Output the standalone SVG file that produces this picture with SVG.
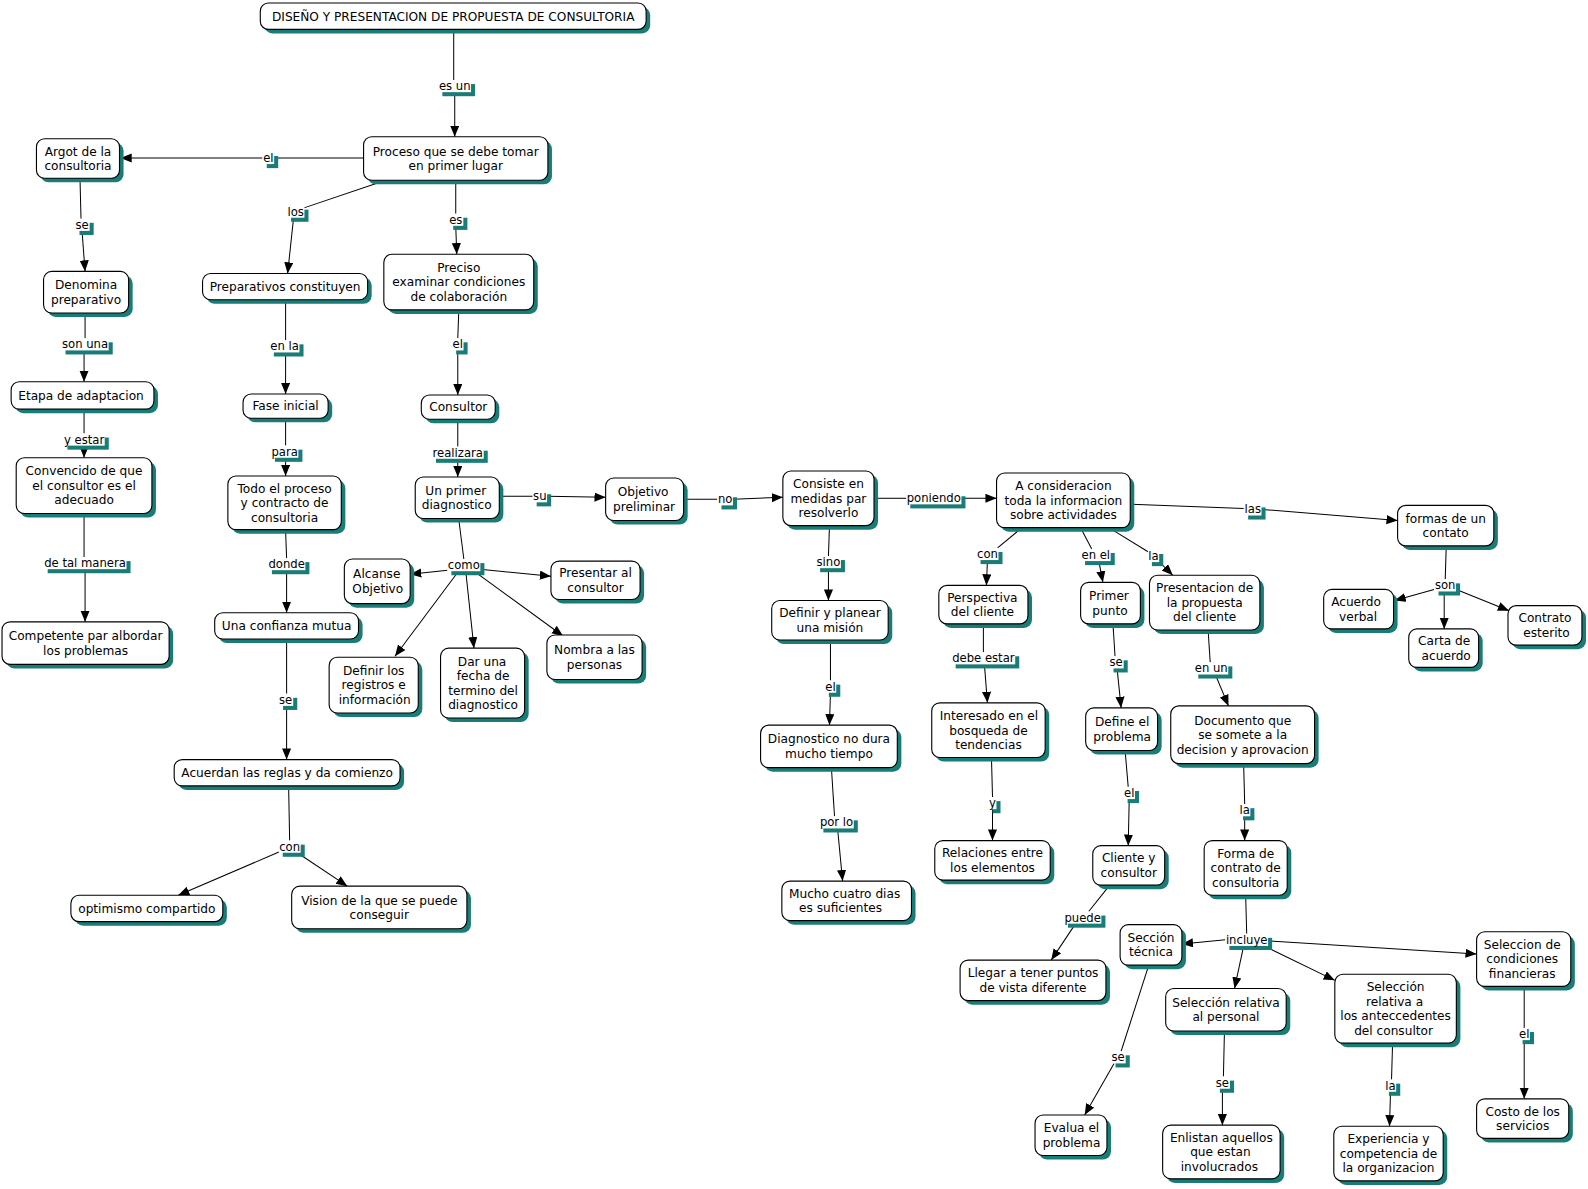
<svg xmlns="http://www.w3.org/2000/svg" width="1588" height="1189" viewBox="0 0 1588 1189">
<defs>
<style>
.sh{fill:#1a7c77}
.bx{fill:#fff;stroke:#000;stroke-width:1.1}
.t{font-family:"DejaVu Sans",Verdana,sans-serif;font-size:12px;text-anchor:middle;fill:#000}
.lt{font-family:"DejaVu Sans",Verdana,sans-serif;font-size:11.5px;text-anchor:middle;fill:#000}
.lb{fill:#fff}
.ln{stroke:#000;stroke-width:1;fill:none}
.ar{stroke:#000;stroke-width:1;fill:none;marker-end:url(#ah)}
</style>
<marker id="ah" markerUnits="userSpaceOnUse" markerWidth="12" markerHeight="10" refX="11" refY="4.5" orient="auto">
<path d="M0,0 L11,4.5 L0,9 z" fill="#000"/>
</marker>
</defs>
<rect x="0" y="0" width="1588" height="1189" fill="#fff"/>
<g transform="scale(1.01276)">
<g id="connectors">
<line class="ln" x1="448" y1="29" x2="448" y2="80"/><line class="ar" x1="449" y1="91" x2="449" y2="135"/>
<line class="ln" x1="359" y1="156" x2="271" y2="156"/><line class="ar" x1="259" y1="156" x2="119" y2="156"/>
<line class="ln" x1="378" y1="179" x2="298" y2="206"/><line class="ar" x1="290" y1="214" x2="284" y2="270"/>
<line class="ln" x1="450" y1="178" x2="450" y2="211"/><line class="ar" x1="450" y1="223" x2="451" y2="251"/>
<line class="ln" x1="79" y1="177" x2="80" y2="216"/><line class="ar" x1="81" y1="228" x2="84" y2="268"/>
<line class="ln" x1="84" y1="310" x2="84" y2="334"/><line class="ar" x1="83" y1="346" x2="83" y2="377"/>
<line class="ln" x1="83" y1="405" x2="83" y2="428"/><line class="ar" x1="83" y1="440" x2="83" y2="452"/>
<line class="ln" x1="83" y1="508" x2="83" y2="550"/><line class="ar" x1="84" y1="562" x2="84" y2="614"/>
<line class="ln" x1="282" y1="297" x2="282" y2="336"/><line class="ar" x1="282" y1="348" x2="282" y2="389"/>
<line class="ln" x1="282" y1="414" x2="282" y2="440"/><line class="ar" x1="282" y1="452" x2="282" y2="470"/>
<line class="ln" x1="282" y1="524" x2="283" y2="551"/><line class="ar" x1="283" y1="563" x2="283" y2="605"/>
<line class="ln" x1="283" y1="632" x2="283" y2="685"/><line class="ar" x1="283" y1="697" x2="283" y2="750"/>
<line class="ln" x1="285" y1="777" x2="286" y2="830"/><line class="ar" x1="276" y1="841" x2="176" y2="884"/><line class="ar" x1="298" y1="845" x2="343" y2="875"/>
<line class="ln" x1="453" y1="307" x2="452" y2="334"/><line class="ar" x1="452" y1="346" x2="452" y2="390"/>
<line class="ln" x1="452" y1="415" x2="452" y2="441"/><line class="ar" x1="452" y1="453" x2="452" y2="471"/>
<line class="ln" x1="494" y1="490" x2="526" y2="490"/><line class="ar" x1="540" y1="490" x2="598" y2="491"/>
<line class="ln" x1="453" y1="513" x2="458" y2="552"/>
<line class="ar" x1="442" y1="563" x2="405" y2="567"/><line class="ar" x1="474" y1="562" x2="544" y2="569"/><line class="ar" x1="452" y1="565" x2="390" y2="648"/><line class="ar" x1="460" y1="565" x2="468" y2="640"/><line class="ar" x1="468" y1="564" x2="556" y2="628"/>
<line class="ln" x1="676" y1="493" x2="708" y2="493"/><line class="ar" x1="724" y1="493" x2="773" y2="491"/>
<line class="ln" x1="865" y1="492" x2="895" y2="492"/><line class="ar" x1="949" y1="492" x2="984" y2="492"/>
<line class="ln" x1="819" y1="520" x2="818" y2="549"/><line class="ar" x1="818" y1="561" x2="818" y2="593"/>
<line class="ln" x1="820" y1="633" x2="820" y2="672"/><line class="ar" x1="820" y1="684" x2="819" y2="716"/>
<line class="ln" x1="821" y1="759" x2="824" y2="806"/><line class="ar" x1="827" y1="818" x2="832" y2="870"/>
<line class="ln" x1="1117" y1="498" x2="1228" y2="502"/><line class="ar" x1="1246" y1="503" x2="1380" y2="514"/>
<line class="ln" x1="1008" y1="522" x2="985" y2="541"/><line class="ar" x1="975" y1="553" x2="974" y2="578"/>
<line class="ln" x1="1068" y1="523" x2="1078" y2="542"/><line class="ar" x1="1085" y1="554" x2="1089" y2="575"/>
<line class="ln" x1="1098" y1="523" x2="1134" y2="545"/><line class="ar" x1="1144" y1="554" x2="1158" y2="568"/>
<line class="ln" x1="971" y1="617" x2="971" y2="644"/><line class="ar" x1="972" y1="656" x2="975" y2="694"/>
<line class="ln" x1="979" y1="749" x2="980" y2="787"/><line class="ar" x1="980" y1="799" x2="980" y2="830"/>
<line class="ln" x1="1099" y1="617" x2="1101" y2="648"/><line class="ar" x1="1103" y1="660" x2="1107" y2="699"/>
<line class="ln" x1="1111" y1="742" x2="1114" y2="777"/><line class="ar" x1="1115" y1="789" x2="1114" y2="835"/>
<line class="ln" x1="1095" y1="875" x2="1075" y2="900"/><line class="ar" x1="1062" y1="912" x2="1038" y2="948"/>
<line class="ln" x1="1193" y1="624" x2="1195" y2="654"/><line class="ar" x1="1200" y1="666" x2="1213" y2="697"/>
<line class="ln" x1="1228" y1="755" x2="1229" y2="794"/><line class="ar" x1="1229" y1="806" x2="1229" y2="830"/>
<line class="ln" x1="1230" y1="885" x2="1231" y2="922"/>
<line class="ar" x1="1210" y1="928" x2="1167" y2="932"/><line class="ar" x1="1228" y1="934" x2="1219" y2="976"/><line class="ar" x1="1250" y1="935" x2="1318" y2="968"/><line class="ar" x1="1252" y1="929" x2="1458" y2="942"/>
<line class="ln" x1="1134" y1="954" x2="1107" y2="1038"/><line class="ar" x1="1100" y1="1050" x2="1071" y2="1101"/>
<line class="ln" x1="1209" y1="1019" x2="1208" y2="1063"/><line class="ar" x1="1207" y1="1075" x2="1207" y2="1111"/>
<line class="ln" x1="1375" y1="1031" x2="1374" y2="1066"/><line class="ar" x1="1373" y1="1078" x2="1372" y2="1112"/>
<line class="ln" x1="1505" y1="975" x2="1505" y2="1015"/><line class="ar" x1="1505" y1="1027" x2="1505" y2="1085"/>
<line class="ln" x1="1428" y1="540" x2="1427" y2="572"/>
<line class="ar" x1="1416" y1="582" x2="1377" y2="593"/><line class="ar" x1="1426" y1="584" x2="1426" y2="621"/><line class="ar" x1="1438" y1="582" x2="1490" y2="603"/>

<g id="labels">
<rect class="sh" x="436.8" y="83" width="32.3" height="12"/><rect class="lb" x="432.8" y="79" width="32.3" height="12"/><text class="lt" x="449" y="89">es un</text>
<rect class="sh" x="263.4" y="154" width="11.3" height="12"/><rect class="lb" x="259.4" y="150" width="11.3" height="12"/><text class="lt" x="265" y="160">el</text>
<rect class="sh" x="287.4" y="207" width="17.2" height="12"/><rect class="lb" x="283.4" y="203" width="17.2" height="12"/><text class="lt" x="292" y="213">los</text>
<rect class="sh" x="447.5" y="215" width="14" height="12"/><rect class="lb" x="443.5" y="211" width="14" height="12"/><text class="lt" x="450" y="221">es</text>
<rect class="sh" x="78.5" y="220" width="14" height="12"/><rect class="lb" x="74.5" y="216" width="14" height="12"/><text class="lt" x="81" y="226">se</text>
<rect class="sh" x="64.7" y="338" width="46.6" height="12"/><rect class="lb" x="60.7" y="334" width="46.6" height="12"/><text class="lt" x="84" y="344">son una</text>
<rect class="sh" x="66.6" y="432" width="40.8" height="12"/><rect class="lb" x="62.6" y="428" width="40.8" height="12"/><text class="lt" x="83" y="438">y estar</text>
<rect class="sh" x="47.1" y="554" width="81.8" height="12"/><rect class="lb" x="43.1" y="550" width="81.8" height="12"/><text class="lt" x="84" y="560">de tal manera</text>
<rect class="sh" x="270.4" y="340" width="29.3" height="12"/><rect class="lb" x="266.4" y="336" width="29.3" height="12"/><text class="lt" x="281" y="346">en la</text>
<rect class="sh" x="271.5" y="444" width="27.1" height="12"/><rect class="lb" x="267.5" y="440" width="27.1" height="12"/><text class="lt" x="281" y="450">para</text>
<rect class="sh" x="268.5" y="555" width="37" height="12"/><rect class="lb" x="264.5" y="551" width="37" height="12"/><text class="lt" x="283" y="561">donde</text>
<rect class="sh" x="279.5" y="689" width="14" height="12"/><rect class="lb" x="275.5" y="685" width="14" height="12"/><text class="lt" x="282" y="695">se</text>
<rect class="sh" x="279.2" y="834" width="21.7" height="12"/><rect class="lb" x="275.2" y="830" width="21.7" height="12"/><text class="lt" x="286" y="840">con</text>
<rect class="sh" x="450.4" y="338" width="11.3" height="12"/><rect class="lb" x="446.4" y="334" width="11.3" height="12"/><text class="lt" x="452" y="344">el</text>
<rect class="sh" x="430.5" y="445" width="51.1" height="12"/><rect class="lb" x="426.5" y="441" width="51.1" height="12"/><text class="lt" x="452" y="451">realizara</text>
<rect class="sh" x="529.9" y="488" width="14.3" height="12"/><rect class="lb" x="525.9" y="484" width="14.3" height="12"/><text class="lt" x="533" y="494">su</text>
<rect class="sh" x="445.7" y="556" width="32.6" height="12"/><rect class="lb" x="441.7" y="552" width="32.6" height="12"/><text class="lt" x="458" y="562">como</text>
<rect class="sh" x="712.4" y="491" width="15.3" height="12"/><rect class="lb" x="708.4" y="487" width="15.3" height="12"/><text class="lt" x="716" y="497">no</text>
<rect class="sh" x="898.8" y="490" width="54.5" height="12"/><rect class="lb" x="894.8" y="486" width="54.5" height="12"/><text class="lt" x="922" y="496">poniendo</text>
<rect class="sh" x="809.8" y="553" width="24.5" height="12"/><rect class="lb" x="805.8" y="549" width="24.5" height="12"/><text class="lt" x="818" y="559">sino</text>
<rect class="sh" x="818.4" y="676" width="11.3" height="12"/><rect class="lb" x="814.4" y="672" width="11.3" height="12"/><text class="lt" x="820" y="682">el</text>
<rect class="sh" x="813" y="810" width="34" height="12"/><rect class="lb" x="809" y="806" width="34" height="12"/><text class="lt" x="826" y="816">por lo</text>
<rect class="sh" x="1232.4" y="501" width="17.2" height="12"/><rect class="lb" x="1228.4" y="497" width="17.2" height="12"/><text class="lt" x="1237" y="507">las</text>
<rect class="sh" x="968.2" y="545" width="21.7" height="12"/><rect class="lb" x="964.2" y="541" width="21.7" height="12"/><text class="lt" x="975" y="551">con</text>
<rect class="sh" x="1071.4" y="546" width="29.3" height="12"/><rect class="lb" x="1067.4" y="542" width="29.3" height="12"/><text class="lt" x="1082" y="552">en el</text>
<rect class="sh" x="1137.4" y="547" width="11.2" height="12"/><rect class="lb" x="1133.4" y="543" width="11.2" height="12"/><text class="lt" x="1139" y="553">la</text>
<rect class="sh" x="943.6" y="648" width="62.8" height="12"/><rect class="lb" x="939.6" y="644" width="62.8" height="12"/><text class="lt" x="971" y="654">debe estar</text>
<rect class="sh" x="980.1" y="791" width="7.8" height="12"/><rect class="lb" x="976.1" y="787" width="7.8" height="12"/><text class="lt" x="980" y="797">y</text>
<rect class="sh" x="1099.5" y="652" width="14" height="12"/><rect class="lb" x="1095.5" y="648" width="14" height="12"/><text class="lt" x="1102" y="658">se</text>
<rect class="sh" x="1113.4" y="781" width="11.3" height="12"/><rect class="lb" x="1109.4" y="777" width="11.3" height="12"/><text class="lt" x="1115" y="787">el</text>
<rect class="sh" x="1054.5" y="904" width="37" height="12"/><rect class="lb" x="1050.5" y="900" width="37" height="12"/><text class="lt" x="1069" y="910">puede</text>
<rect class="sh" x="1183.2" y="658" width="33.6" height="12"/><rect class="lb" x="1179.2" y="654" width="33.6" height="12"/><text class="lt" x="1196" y="664">en un</text>
<rect class="sh" x="1227.4" y="798" width="11.2" height="12"/><rect class="lb" x="1223.4" y="794" width="11.2" height="12"/><text class="lt" x="1229" y="804">la</text>
<rect class="sh" x="1213.9" y="926" width="42.2" height="12"/><rect class="lb" x="1209.9" y="922" width="42.2" height="12"/><text class="lt" x="1231" y="932">incluye</text>
<rect class="sh" x="1101.5" y="1042" width="14" height="12"/><rect class="lb" x="1097.5" y="1038" width="14" height="12"/><text class="lt" x="1104" y="1048">se</text>
<rect class="sh" x="1204.5" y="1067" width="14" height="12"/><rect class="lb" x="1200.5" y="1063" width="14" height="12"/><text class="lt" x="1207" y="1073">se</text>
<rect class="sh" x="1371.4" y="1070" width="11.2" height="12"/><rect class="lb" x="1367.4" y="1066" width="11.2" height="12"/><text class="lt" x="1373" y="1076">la</text>
<rect class="sh" x="1503.4" y="1019" width="11.3" height="12"/><rect class="lb" x="1499.4" y="1015" width="11.3" height="12"/><text class="lt" x="1505" y="1025">el</text>
<rect class="sh" x="1420.4" y="576" width="21.3" height="12"/><rect class="lb" x="1416.4" y="572" width="21.3" height="12"/><text class="lt" x="1427" y="582">son</text>
</g>
</g>

<g id="n-title"><rect class="sh" x="261" y="7" width="381" height="26" rx="8"/><rect class="bx" x="257" y="3" width="381" height="26" rx="8"/><text class="t" x="447.5" y="20.3">DISEÑO Y PRESENTACION DE PROPUESTA DE CONSULTORIA</text></g>
<g id="n-proceso"><rect class="sh" x="363" y="139" width="182" height="43" rx="8"/><rect class="bx" x="359" y="135" width="182" height="43" rx="8"/><text class="t"><tspan x="450" y="153.6">Proceso que se debe tomar</tspan><tspan x="450" y="167.9">en primer lugar</tspan></text></g>
<g id="n-argot"><rect class="sh" x="40" y="141" width="82" height="39" rx="8"/><rect class="bx" x="36" y="137" width="82" height="39" rx="8"/><text class="t"><tspan x="77" y="153.6">Argot de la</tspan><tspan x="77" y="167.9">consultoria</tspan></text></g>
<g id="n-denomina"><rect class="sh" x="47" y="272" width="84" height="41" rx="8"/><rect class="bx" x="43" y="268" width="84" height="41" rx="8"/><text class="t"><tspan x="85" y="285.6">Denomina</tspan><tspan x="85" y="299.9">preparativo</tspan></text></g>
<g id="n-etapa"><rect class="sh" x="15" y="381" width="141" height="27" rx="8"/><rect class="bx" x="11" y="377" width="141" height="27" rx="8"/><text class="t" x="80" y="394.8">Etapa de adaptacion</text></g>
<g id="n-convencido"><rect class="sh" x="20" y="456" width="134" height="55" rx="8"/><rect class="bx" x="16" y="452" width="134" height="55" rx="8"/><text class="t"><tspan x="83" y="469.5">Convencido de que</tspan><tspan x="83" y="483.8">el consultor es el</tspan><tspan x="83" y="498.1">adecuado</tspan></text></g>
<g id="n-competente"><rect class="sh" x="6" y="618" width="165" height="42" rx="8"/><rect class="bx" x="2" y="614" width="165" height="42" rx="8"/><text class="t"><tspan x="84.5" y="632.1">Competente par albordar</tspan><tspan x="84.5" y="646.4">los problemas</tspan></text></g>
<g id="n-preparativos"><rect class="sh" x="204" y="274" width="163" height="26" rx="8"/><rect class="bx" x="200" y="270" width="163" height="26" rx="8"/><text class="t" x="281.5" y="287.3">Preparativos constituyen</text></g>
<g id="n-preciso"><rect class="sh" x="383" y="255" width="148" height="55" rx="8"/><rect class="bx" x="379" y="251" width="148" height="55" rx="8"/><text class="t"><tspan x="453" y="268.5">Preciso</tspan><tspan x="453" y="282.8">examinar condiciones</tspan><tspan x="453" y="297.1">de colaboración</tspan></text></g>
<g id="n-fase"><rect class="sh" x="244" y="393" width="84" height="24" rx="8"/><rect class="bx" x="240" y="389" width="84" height="24" rx="8"/><text class="t" x="282" y="405.3">Fase inicial</text></g>
<g id="n-consultor"><rect class="sh" x="420" y="394" width="73" height="24" rx="8"/><rect class="bx" x="416" y="390" width="73" height="24" rx="8"/><text class="t" x="452.5" y="406.3">Consultor</text></g>
<g id="n-todo"><rect class="sh" x="229" y="474" width="112" height="53" rx="8"/><rect class="bx" x="225" y="470" width="112" height="53" rx="8"/><text class="t"><tspan x="281" y="486.5">Todo el proceso</tspan><tspan x="281" y="500.8">y contracto de</tspan><tspan x="281" y="515.1">consultoria</tspan></text></g>
<g id="n-confianza"><rect class="sh" x="216" y="609" width="142" height="26" rx="8"/><rect class="bx" x="212" y="605" width="142" height="26" rx="8"/><text class="t" x="283" y="622.3">Una confianza mutua</text></g>
<g id="n-acuerdan"><rect class="sh" x="176" y="754" width="223" height="26" rx="8"/><rect class="bx" x="172" y="750" width="223" height="26" rx="8"/><text class="t" x="283.5" y="767.3">Acuerdan las reglas y da comienzo</text></g>
<g id="n-optimismo"><rect class="sh" x="74" y="888" width="150" height="26" rx="8"/><rect class="bx" x="70" y="884" width="150" height="26" rx="8"/><text class="t" x="145" y="901.3">optimismo compartido</text></g>
<g id="n-vision"><rect class="sh" x="292" y="879" width="173" height="42" rx="8"/><rect class="bx" x="288" y="875" width="173" height="42" rx="8"/><text class="t"><tspan x="374.5" y="893.2">Vision de la que se puede</tspan><tspan x="374.5" y="907.5">conseguir</tspan></text></g>
<g id="n-unprimer"><rect class="sh" x="414" y="475" width="83" height="41" rx="8"/><rect class="bx" x="410" y="471" width="83" height="41" rx="8"/><text class="t"><tspan x="450" y="488.6">Un primer</tspan><tspan x="451" y="502.9">diagnostico</tspan></text></g>
<g id="n-objetivo"><rect class="sh" x="602" y="476" width="77" height="42" rx="8"/><rect class="bx" x="598" y="472" width="77" height="42" rx="8"/><text class="t"><tspan x="635" y="490.1">Objetivo</tspan><tspan x="636" y="504.4">preliminar</tspan></text></g>
<g id="n-alcanse"><rect class="sh" x="344" y="556" width="65" height="44" rx="8"/><rect class="bx" x="340" y="552" width="65" height="44" rx="8"/><text class="t"><tspan x="372" y="571.1">Alcanse</tspan><tspan x="373" y="585.4">Objetivo</tspan></text></g>
<g id="n-presentar"><rect class="sh" x="548" y="558" width="88" height="38" rx="8"/><rect class="bx" x="544" y="554" width="88" height="38" rx="8"/><text class="t"><tspan x="588" y="570.1">Presentar al</tspan><tspan x="588" y="584.4">consultor</tspan></text></g>
<g id="n-definirreg"><rect class="sh" x="329" y="653" width="88" height="55" rx="8"/><rect class="bx" x="325" y="649" width="88" height="55" rx="8"/><text class="t"><tspan x="369" y="666.5">Definir los</tspan><tspan x="369" y="680.8">registros e</tspan><tspan x="370" y="695.1">información</tspan></text></g>
<g id="n-darfecha"><rect class="sh" x="439" y="644" width="83" height="69" rx="8"/><rect class="bx" x="435" y="640" width="83" height="69" rx="8"/><text class="t"><tspan x="476" y="657.4">Dar una</tspan><tspan x="477" y="671.7">fecha de</tspan><tspan x="477" y="686">termino del</tspan><tspan x="477" y="700.3">diagnostico</tspan></text></g>
<g id="n-nombra"><rect class="sh" x="544" y="631" width="94" height="44" rx="8"/><rect class="bx" x="540" y="627" width="94" height="44" rx="8"/><text class="t"><tspan x="587" y="646.1">Nombra a las</tspan><tspan x="587" y="660.4">personas</tspan></text></g>
<g id="n-consiste"><rect class="sh" x="777" y="469" width="90" height="54" rx="8"/><rect class="bx" x="773" y="465" width="90" height="54" rx="8"/><text class="t"><tspan x="818" y="482">Consiste en</tspan><tspan x="818" y="496.3">medidas par</tspan><tspan x="818" y="510.6">resolverlo</tspan></text></g>
<g id="n-definirplan"><rect class="sh" x="766" y="597" width="115" height="39" rx="8"/><rect class="bx" x="762" y="593" width="115" height="39" rx="8"/><text class="t"><tspan x="819.5" y="609.6">Definir y planear</tspan><tspan x="819.5" y="623.9">una misión</tspan></text></g>
<g id="n-diagnostico"><rect class="sh" x="755" y="720" width="135" height="42" rx="8"/><rect class="bx" x="751" y="716" width="135" height="42" rx="8"/><text class="t"><tspan x="818.5" y="734.1">Diagnostico no dura</tspan><tspan x="818.5" y="748.4">mucho tiempo</tspan></text></g>
<g id="n-mucho"><rect class="sh" x="776" y="874" width="128" height="39" rx="8"/><rect class="bx" x="772" y="870" width="128" height="39" rx="8"/><text class="t"><tspan x="834" y="886.6">Mucho cuatro dias</tspan><tspan x="830" y="900.9">es suficientes</tspan></text></g>
<g id="n-aconsid"><rect class="sh" x="988" y="471" width="132" height="54" rx="8"/><rect class="bx" x="984" y="467" width="132" height="54" rx="8"/><text class="t"><tspan x="1050" y="484">A consideracion</tspan><tspan x="1050" y="498.3">toda la informacion</tspan><tspan x="1050" y="512.6">sobre actividades</tspan></text></g>
<g id="n-perspectiva"><rect class="sh" x="931" y="582" width="88" height="38" rx="8"/><rect class="bx" x="927" y="578" width="88" height="38" rx="8"/><text class="t"><tspan x="970" y="594.1">Perspectiva</tspan><tspan x="970" y="608.4">del cliente</tspan></text></g>
<g id="n-interesado"><rect class="sh" x="924" y="698" width="112" height="54" rx="8"/><rect class="bx" x="920" y="694" width="112" height="54" rx="8"/><text class="t"><tspan x="976.5" y="711">Interesado en el</tspan><tspan x="976" y="725.3">bosqueda de</tspan><tspan x="976" y="739.6">tendencias</tspan></text></g>
<g id="n-relaciones"><rect class="sh" x="927" y="834" width="114" height="39" rx="8"/><rect class="bx" x="923" y="830" width="114" height="39" rx="8"/><text class="t"><tspan x="980" y="846.6">Relaciones entre</tspan><tspan x="980" y="860.9">los elementos</tspan></text></g>
<g id="n-primer"><rect class="sh" x="1071" y="579" width="59" height="41" rx="8"/><rect class="bx" x="1067" y="575" width="59" height="41" rx="8"/><text class="t"><tspan x="1095" y="592.6">Primer</tspan><tspan x="1096" y="606.9">punto</tspan></text></g>
<g id="n-define"><rect class="sh" x="1076" y="703" width="71" height="42" rx="8"/><rect class="bx" x="1072" y="699" width="71" height="42" rx="8"/><text class="t"><tspan x="1108" y="717.1">Define el</tspan><tspan x="1108" y="731.4">problema</tspan></text></g>
<g id="n-cliente"><rect class="sh" x="1083" y="839" width="71" height="39" rx="8"/><rect class="bx" x="1079" y="835" width="71" height="39" rx="8"/><text class="t"><tspan x="1114.5" y="851.6">Cliente y</tspan><tspan x="1114.5" y="865.9">consultor</tspan></text></g>
<g id="n-llegar"><rect class="sh" x="952" y="952" width="144" height="40" rx="8"/><rect class="bx" x="948" y="948" width="144" height="40" rx="8"/><text class="t"><tspan x="1020" y="965.1">Llegar a tener puntos</tspan><tspan x="1020" y="979.4">de vista diferente</tspan></text></g>
<g id="n-presentacion"><rect class="sh" x="1139" y="572" width="109" height="54" rx="8"/><rect class="bx" x="1135" y="568" width="109" height="54" rx="8"/><text class="t"><tspan x="1189.5" y="585">Presentacion de</tspan><tspan x="1189.5" y="599.3">la propuesta</tspan><tspan x="1189.5" y="613.6">del cliente</tspan></text></g>
<g id="n-documento"><rect class="sh" x="1160" y="701" width="142" height="57" rx="8"/><rect class="bx" x="1156" y="697" width="142" height="57" rx="8"/><text class="t"><tspan x="1227" y="715.5">Documento que</tspan><tspan x="1227" y="729.8">se somete a la</tspan><tspan x="1227" y="744.1">decision y aprovacion</tspan></text></g>
<g id="n-forma"><rect class="sh" x="1193" y="834" width="82" height="54" rx="8"/><rect class="bx" x="1189" y="830" width="82" height="54" rx="8"/><text class="t"><tspan x="1230" y="847">Forma de</tspan><tspan x="1230" y="861.3">contrato de</tspan><tspan x="1230" y="875.6">consultoria</tspan></text></g>
<g id="n-seccion"><rect class="sh" x="1110" y="917" width="61" height="40" rx="8"/><rect class="bx" x="1106" y="913" width="61" height="40" rx="8"/><text class="t"><tspan x="1136.5" y="930.1">Sección</tspan><tspan x="1136.5" y="944.4">técnica</tspan></text></g>
<g id="n-selpersonal"><rect class="sh" x="1155" y="980" width="119" height="42" rx="8"/><rect class="bx" x="1151" y="976" width="119" height="42" rx="8"/><text class="t"><tspan x="1210.5" y="994.1">Selección relativa</tspan><tspan x="1210.5" y="1008.4">al personal</tspan></text></g>
<g id="n-selantec"><rect class="sh" x="1322" y="966" width="120" height="68" rx="8"/><rect class="bx" x="1318" y="962" width="120" height="68" rx="8"/><text class="t"><tspan x="1378" y="978.9">Selección</tspan><tspan x="1377" y="993.2">relativa a</tspan><tspan x="1378" y="1007.5">los anteccedentes</tspan><tspan x="1376" y="1021.8">del consultor</tspan></text></g>
<g id="n-selcond"><rect class="sh" x="1462" y="924" width="93" height="54" rx="8"/><rect class="bx" x="1458" y="920" width="93" height="54" rx="8"/><text class="t"><tspan x="1503" y="937">Seleccion de</tspan><tspan x="1503" y="951.3">condiciones</tspan><tspan x="1503" y="965.6">financieras</tspan></text></g>
<g id="n-evalua"><rect class="sh" x="1026" y="1105" width="71" height="40" rx="8"/><rect class="bx" x="1022" y="1101" width="71" height="40" rx="8"/><text class="t"><tspan x="1058" y="1118.1">Evalua el</tspan><tspan x="1058" y="1132.4">problema</tspan></text></g>
<g id="n-enlistan"><rect class="sh" x="1152" y="1115" width="116" height="53" rx="8"/><rect class="bx" x="1148" y="1111" width="116" height="53" rx="8"/><text class="t"><tspan x="1206" y="1127.5">Enlistan aquellos</tspan><tspan x="1205" y="1141.8">que estan</tspan><tspan x="1204" y="1156.1">involucrados</tspan></text></g>
<g id="n-experiencia"><rect class="sh" x="1321" y="1116" width="108" height="54" rx="8"/><rect class="bx" x="1317" y="1112" width="108" height="54" rx="8"/><text class="t"><tspan x="1371" y="1129">Experiencia y</tspan><tspan x="1371" y="1143.3">competencia de</tspan><tspan x="1371" y="1157.6">la organizacion</tspan></text></g>
<g id="n-costo"><rect class="sh" x="1462" y="1089" width="91" height="39" rx="8"/><rect class="bx" x="1458" y="1085" width="91" height="39" rx="8"/><text class="t"><tspan x="1503.5" y="1101.6">Costo de los</tspan><tspan x="1503.5" y="1115.9">servicios</tspan></text></g>
<g id="n-formas"><rect class="sh" x="1384" y="503" width="95" height="40" rx="8"/><rect class="bx" x="1380" y="499" width="95" height="40" rx="8"/><text class="t"><tspan x="1427.5" y="516.1">formas de un</tspan><tspan x="1427.5" y="530.4">contato</tspan></text></g>
<g id="n-acuerdo"><rect class="sh" x="1311" y="586" width="69" height="39" rx="8"/><rect class="bx" x="1307" y="582" width="69" height="39" rx="8"/><text class="t"><tspan x="1339" y="598.6">Acuerdo</tspan><tspan x="1341" y="612.9">verbal</tspan></text></g>
<g id="n-carta"><rect class="sh" x="1395" y="625" width="69" height="38" rx="8"/><rect class="bx" x="1391" y="621" width="69" height="38" rx="8"/><text class="t"><tspan x="1426" y="637.1">Carta de</tspan><tspan x="1428" y="651.4">acuerdo</tspan></text></g>
<g id="n-contrato"><rect class="sh" x="1493" y="602" width="73" height="39" rx="8"/><rect class="bx" x="1489" y="598" width="73" height="39" rx="8"/><text class="t"><tspan x="1525.5" y="614.6">Contrato</tspan><tspan x="1527" y="628.9">esterito</tspan></text></g>
</g>
</svg>
